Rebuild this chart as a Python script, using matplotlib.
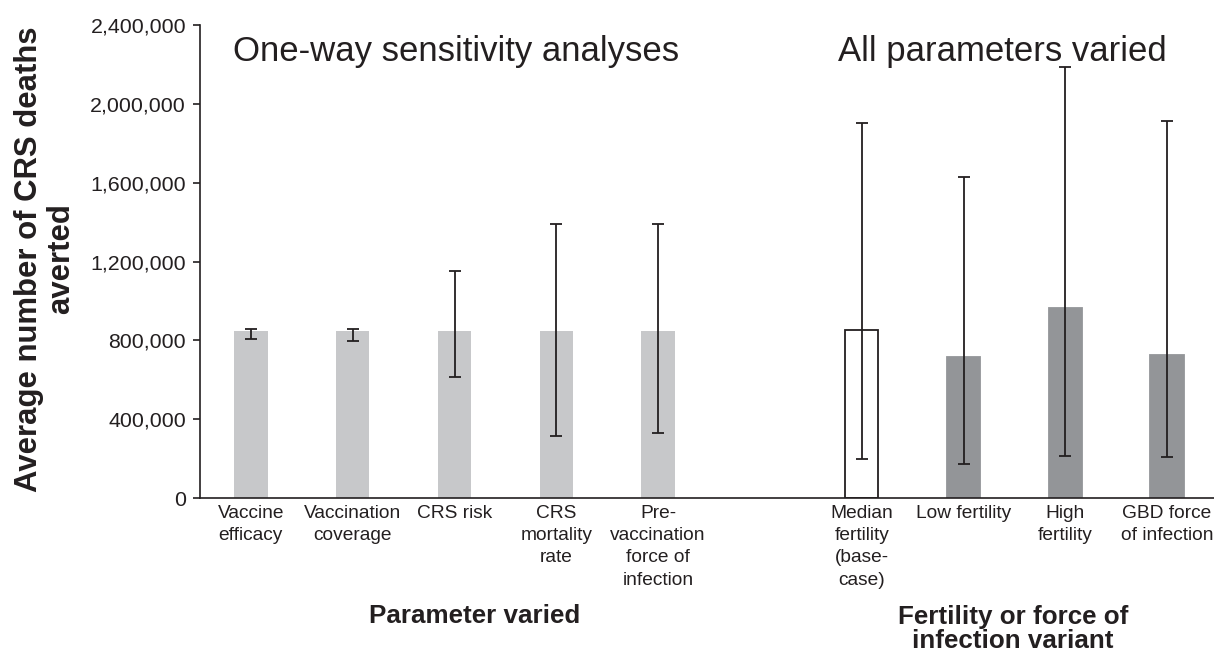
import numpy as np
import matplotlib
matplotlib.use("Agg")
from matplotlib import pyplot as plt
from matplotlib.ticker import FuncFormatter

plt.rcParams['font.family'] = ['Liberation Sans', 'DejaVu Sans']

# one-way sensitivity analyses
oneway_labels = ['Vaccine\nefficacy', 'Vaccination\ncoverage', 'CRS risk',
                 'CRS\nmortality\nrate', 'Pre-\nvaccination\nforce of\ninfection']
oneway_mean = [848000, 848000, 848000, 848000, 848000]
oneway_low = [808000, 798000, 614000, 313000, 331000]
oneway_high = [856000, 856000, 1154000, 1392000, 1392000]

# all parameters varied
allvar_labels = ['Median\nfertility\n(base-\ncase)', 'Low fertility', 'High\nfertility',
                 'GBD force\nof infection']
allvar_mean = [854000, 717000, 964000, 726000]
allvar_low = [200000, 174000, 215000, 208000]
allvar_high = [1901000, 1627000, 2186000, 1915000]

yticks = [0, 400000, 800000, 1200000, 1600000, 2000000, 2400000]

W, H = 1214, 656
fig = plt.figure(figsize=(W / 100, H / 100), dpi=100)
ax = fig.add_axes([200 / W, 1 - 498 / H, 1018 / W, 473 / H])

txt = '#231f20'
light = '#c7c8ca'
dark = '#939598'
bw = 0.33

x1 = np.arange(len(oneway_mean))
x2 = np.arange(len(allvar_mean)) + len(oneway_mean) + 1

ax.bar(x1, oneway_mean, bw, color=light)
ax.errorbar(x1, oneway_mean,
            yerr=[np.array(oneway_mean) - np.array(oneway_low),
                  np.array(oneway_high) - np.array(oneway_mean)],
            fmt='none', ecolor=txt, elinewidth=1.3, capsize=4, capthick=1.3)

colors2 = ['white'] + [dark] * (len(allvar_mean) - 1)
edges2 = [txt] + [dark] * (len(allvar_mean) - 1)
ax.bar(x2, allvar_mean, bw, color=colors2, edgecolor=edges2, linewidth=1.3)
ax.errorbar(x2, allvar_mean,
            yerr=[np.array(allvar_mean) - np.array(allvar_low),
                  np.array(allvar_high) - np.array(allvar_mean)],
            fmt='none', ecolor=txt, elinewidth=1.3, capsize=4, capthick=1.3)

ax.set_xlim(-0.5, x2[-1] + 0.5)
ax.set_ylim(0, 2400000)
ax.set_yticks(yticks)
ax.yaxis.set_major_formatter(FuncFormatter(lambda v, p: f'{int(v):,}'))
ax.tick_params(axis='y', direction='out', length=5, width=1.2, color=txt,
               labelsize=15.4, labelcolor=txt, pad=5)
ax.set_xticks(list(x1) + list(x2))
ax.set_xticklabels(oneway_labels + allvar_labels, fontsize=13.8, color=txt,
                   va='top', linespacing=1.4)
ax.tick_params(axis='x', length=0, pad=5)

for s in ['top', 'right']:
    ax.spines[s].set_visible(False)
ax.spines['left'].set_color(txt)
ax.spines['left'].set_linewidth(1.2)
ax.spines['bottom'].set_color(txt)
ax.spines['bottom'].set_linewidth(1.2)

fig.text(233 / W, 1 - 61 / H, 'One-way sensitivity analyses', fontsize=25,
         color=txt, ha='left', va='baseline')
fig.text(838 / W, 1 - 61 / H, 'All parameters varied', fontsize=25,
         color=txt, ha='left', va='baseline')

fig.text(45 / W, 1 - 259 / H, 'Average number of CRS deaths\naverted', fontsize=22.4,
         fontweight='bold', color=txt, rotation=90, ha='center', va='center',
         multialignment='center', linespacing=1.1)

fig.text(475 / W, 1 - 616 / H, 'Parameter varied', fontsize=18.7, fontweight='bold',
         color=txt, ha='center', va='center')
fig.text(1013 / W, 1 - 629 / H, 'Fertility or force of\ninfection variant', fontsize=18.7,
         fontweight='bold', color=txt, ha='center', va='center', linespacing=1.05)

fig.savefig('out.png', dpi=100)
